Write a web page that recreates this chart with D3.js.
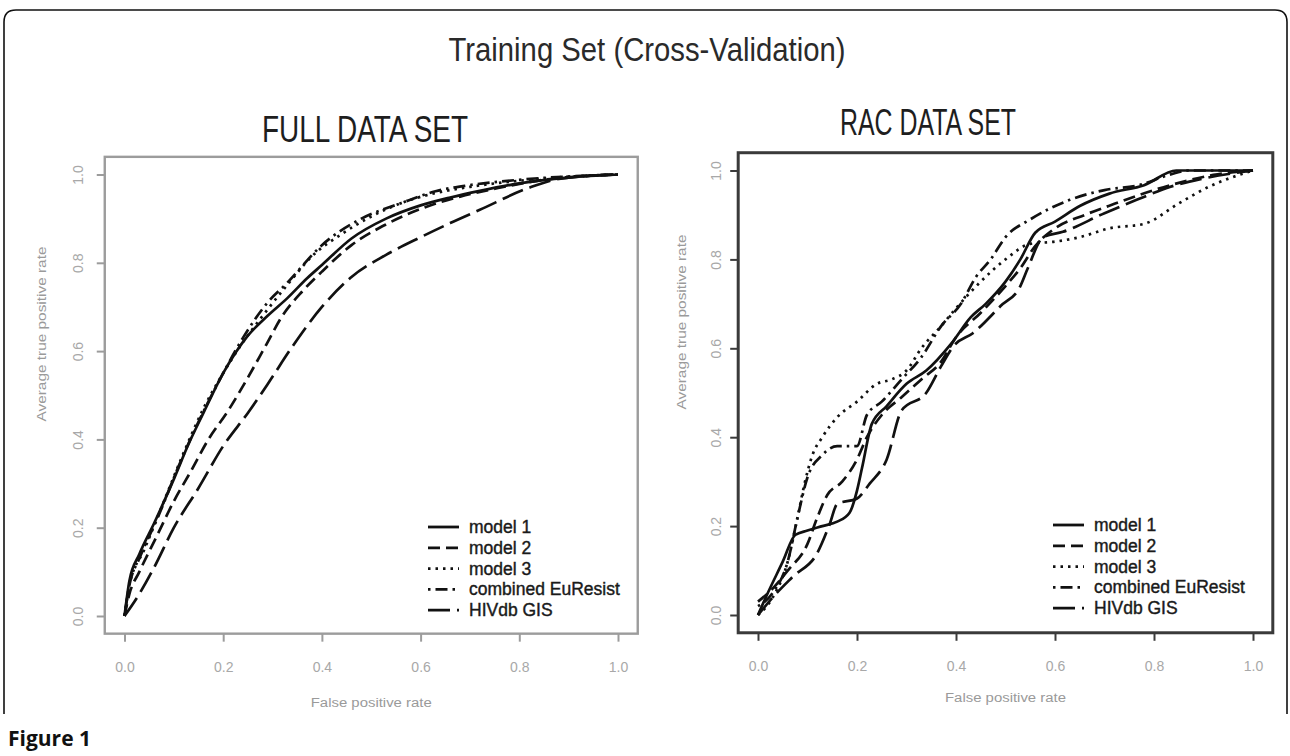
<!DOCTYPE html>
<html>
<head>
<meta charset="utf-8">
<script src="https://cdn.jsdelivr.net/npm/d3@7"></script>
<style>
  body { margin: 0; background: #fff; }
  svg { display: block; font-family: "Liberation Sans", Arial, sans-serif; }
</style>
</head>
<body>
<svg id="chart" width="1290" height="756"></svg>
<script>
// tick values shared by both panels
const ticks = [0, 0.2, 0.4, 0.6, 0.8, 1.0];
const seriesNames = ['model 1', 'model 2', 'model 3', 'combined EuResist', 'HIVdb GIS'];

// FULL DATA SET: [false positive rate, average true positive rate]
const fullModel1 = [[0, 0], [0.01, 0.08], [0.03, 0.14], [0.06, 0.21], [0.1, 0.31], [0.13, 0.39], [0.16, 0.46], [0.2, 0.55], [0.25, 0.635], [0.29, 0.68], [0.33, 0.72], [0.37, 0.765], [0.4, 0.795], [0.46, 0.855], [0.53, 0.9], [0.6, 0.93], [0.66, 0.948], [0.72, 0.963], [0.8, 0.98], [0.9, 0.993], [1, 1]];
const fullModel2 = [[0, 0], [0.01, 0.05], [0.03, 0.1], [0.065, 0.18], [0.1, 0.26], [0.133, 0.325], [0.17, 0.4], [0.21, 0.465], [0.25, 0.54], [0.285, 0.61], [0.32, 0.68], [0.36, 0.735], [0.4, 0.78], [0.46, 0.84], [0.53, 0.887], [0.6, 0.922], [0.68, 0.95], [0.76, 0.97], [0.85, 0.988], [1, 1]];
const fullModel3 = [[0, 0], [0.01, 0.07], [0.04, 0.15], [0.08, 0.26], [0.12, 0.37], [0.16, 0.47], [0.2, 0.55], [0.24, 0.62], [0.28, 0.68], [0.33, 0.75], [0.38, 0.815], [0.44, 0.865], [0.5, 0.905], [0.56, 0.935], [0.63, 0.958], [0.7, 0.972], [0.8, 0.986], [0.9, 0.995], [1, 1]];
const fullCombined = [[0, 0], [0.01, 0.07], [0.03, 0.13], [0.07, 0.23], [0.11, 0.34], [0.15, 0.44], [0.2, 0.55], [0.24, 0.63], [0.29, 0.71], [0.33, 0.755], [0.4, 0.84], [0.48, 0.9], [0.56, 0.935], [0.63, 0.962], [0.7, 0.976], [0.8, 0.988], [1, 1]];
const fullHivdb = [[0, 0], [0.03, 0.05], [0.06, 0.11], [0.1, 0.2], [0.15, 0.29], [0.2, 0.385], [0.25, 0.46], [0.29, 0.525], [0.34, 0.61], [0.4, 0.7], [0.46, 0.768], [0.53, 0.818], [0.6, 0.858], [0.66, 0.89], [0.72, 0.92], [0.82, 0.97], [0.88, 0.99], [1, 1]];

// RAC DATA SET
const racModel1 = [[0, 0], [0.02, 0.05], [0.05, 0.12], [0.075, 0.18], [0.1, 0.19], [0.13, 0.2], [0.16, 0.21], [0.185, 0.23], [0.2, 0.28], [0.21, 0.33], [0.23, 0.43], [0.26, 0.47], [0.3, 0.52], [0.34, 0.55], [0.39, 0.61], [0.43, 0.67], [0.46, 0.7], [0.5, 0.75], [0.53, 0.8], [0.56, 0.86], [0.6, 0.885], [0.65, 0.92], [0.71, 0.948], [0.78, 0.967], [0.845, 1.0], [1, 1]];
const racModel2 = [[0, 0.03], [0.03, 0.06], [0.06, 0.1], [0.1, 0.16], [0.12, 0.22], [0.14, 0.27], [0.17, 0.3], [0.2, 0.35], [0.22, 0.4], [0.25, 0.45], [0.29, 0.49], [0.33, 0.53], [0.37, 0.57], [0.4, 0.625], [0.45, 0.68], [0.5, 0.74], [0.53, 0.78], [0.56, 0.83], [0.6, 0.87], [0.66, 0.9], [0.72, 0.925], [0.8, 0.956], [0.86, 0.975], [0.92, 0.99], [1, 1]];
const racModel3 = [[0, 0], [0.03, 0.04], [0.06, 0.12], [0.08, 0.22], [0.095, 0.3], [0.11, 0.36], [0.13, 0.4], [0.16, 0.445], [0.2, 0.48], [0.24, 0.52], [0.27, 0.53], [0.3, 0.55], [0.33, 0.6], [0.37, 0.65], [0.4, 0.69], [0.45, 0.75], [0.5, 0.8], [0.55, 0.835], [0.6, 0.84], [0.65, 0.85], [0.71, 0.87], [0.78, 0.88], [0.85, 0.926], [0.91, 0.963], [1, 1]];
const racCombined = [[0, 0.02], [0.03, 0.05], [0.06, 0.12], [0.08, 0.22], [0.1, 0.31], [0.13, 0.36], [0.16, 0.38], [0.2, 0.38], [0.22, 0.45], [0.25, 0.48], [0.29, 0.53], [0.33, 0.58], [0.37, 0.65], [0.41, 0.7], [0.44, 0.76], [0.47, 0.8], [0.5, 0.85], [0.55, 0.89], [0.63, 0.934], [0.7, 0.956], [0.77, 0.967], [0.83, 0.99], [0.87, 1.0], [1, 1]];
const racHivdb = [[0, 0], [0.03, 0.04], [0.07, 0.086], [0.12, 0.14], [0.145, 0.205], [0.16, 0.25], [0.2, 0.262], [0.226, 0.296], [0.26, 0.35], [0.29, 0.46], [0.34, 0.5], [0.37, 0.56], [0.395, 0.605], [0.434, 0.634], [0.49, 0.695], [0.53, 0.74], [0.545, 0.78], [0.576, 0.85], [0.616, 0.862], [0.7, 0.904], [0.765, 0.934], [0.832, 0.963], [0.9, 0.982], [1, 1]];

const fullSeries = [fullModel1, fullModel2, fullModel3, fullCombined, fullHivdb];
const racSeries = [racModel1, racModel2, racModel3, racCombined, racHivdb];

// R lty 1..5 look
const dashes = [null, '12,6', '2.5,5', '2.5,5,12,5', '22,7'];

const svg = d3.select('#chart');

// figure frame with rounded top corners
svg.append('path')
  .attr('d', 'M4,714 V22 Q4,10 16,10 H1275 Q1287,10 1287,22 V714')
  .attr('fill', 'none').attr('stroke', '#111').attr('stroke-width', 1.6);

svg.append('text').attr('x', 647).attr('y', 61).attr('text-anchor', 'middle')
  .attr('font-size', 33).attr('fill', '#2a2a2a')
  .attr('textLength', 397).attr('lengthAdjust', 'spacingAndGlyphs')
  .text('Training Set (Cross-Validation)');

svg.append('text').attr('x', 8).attr('y', 746)
  .attr('font-family', '"Open Sans", sans-serif').attr('font-weight', 700).attr('font-size', 21).attr('fill', '#111')
  .text('Figure 1');

const panels = [
  { title: 'FULL DATA SET', titleX: 365, titleY: 142, titleLen: 206, series: fullSeries,
    left: 124.5, right: 618, bottom: 616, top: 174.5, box: '#9c9c9c', boxWidth: 2.4,
    yLabelOff: 22, yTitleX: 42, yTitleY: 334, xTitleY: 707, legendX: 428, legendY: 527 },
  { title: 'RAC DATA SET', titleX: 928, titleY: 135, titleLen: 176, series: racSeries,
    left: 758, right: 1253, bottom: 615, top: 170.5, box: '#3a3a3a', boxWidth: 3,
    yLabelOff: 17, yTitleX: 682, yTitleY: 322, xTitleY: 702, legendX: 1053, legendY: 525 }
];

function drawPanel(p) {
  const x = d3.scaleLinear().domain([0, 1]).range([p.left, p.right]);
  const y = d3.scaleLinear().domain([0, 1]).range([p.bottom, p.top]);
  const g = svg.append('g');

  g.append('text').attr('x', p.titleX).attr('y', p.titleY).attr('text-anchor', 'middle')
    .attr('font-size', 36).attr('fill', '#1e1e1e')
    .attr('textLength', p.titleLen).attr('lengthAdjust', 'spacingAndGlyphs')
    .text(p.title);

  // plot box spans 4% beyond the data range, like R
  g.append('rect')
    .attr('x', x(-0.04)).attr('y', y(1.04))
    .attr('width', x(1.04) - x(-0.04)).attr('height', y(-0.04) - y(1.04))
    .attr('fill', 'none').attr('stroke', p.box).attr('stroke-width', p.boxWidth);

  const xAxis = g.append('g').attr('transform', `translate(0,${y(-0.04)})`)
    .call(d3.axisBottom(x).tickValues(ticks).tickSize(8).tickPadding(20).tickFormat(d3.format('.1f')));
  const yAxis = g.append('g').attr('transform', `translate(${x(-0.04)},0)`)
    .call(d3.axisLeft(y).tickValues(ticks).tickSize(8).tickFormat(d3.format('.1f')));
  [xAxis, yAxis].forEach((a) => {
    a.select('.domain').remove();
    a.selectAll('.tick line').attr('stroke', p.box).attr('stroke-width', 2);
    a.selectAll('.tick text').attr('fill', '#a8a8a8').attr('font-size', 14)
      .attr('font-family', '"Liberation Sans", Arial, sans-serif');
  });
  yAxis.selectAll('.tick text')
    .attr('x', null).attr('dy', null).attr('text-anchor', 'middle')
    .attr('transform', `translate(${-p.yLabelOff},0) rotate(-90)`);

  g.append('text').attr('x', (x(0) + x(1)) / 2).attr('y', p.xTitleY).attr('text-anchor', 'middle')
    .attr('font-size', 12).attr('fill', '#9a9a9a')
    .attr('textLength', 121).attr('lengthAdjust', 'spacingAndGlyphs')
    .text('False positive rate');
  g.append('text').attr('transform', `translate(${p.yTitleX + 4},${p.yTitleY}) rotate(-90)`)
    .attr('text-anchor', 'middle').attr('font-size', 12).attr('fill', '#9a9a9a')
    .attr('textLength', 175).attr('lengthAdjust', 'spacingAndGlyphs')
    .text('Average true positive rate');

  const line = d3.line().x((d) => x(d[0])).y((d) => y(d[1])).curve(d3.curveMonotoneX);
  g.selectAll('path.roc').data(p.series).join('path')
    .attr('class', 'roc')
    .attr('d', line)
    .attr('fill', 'none').attr('stroke', '#111').attr('stroke-width', 2.7)
    .attr('stroke-dasharray', (d, i) => dashes[i]);

  const legend = g.append('g').attr('transform', `translate(${p.legendX},${p.legendY})`);
  const rows = legend.selectAll('g').data(seriesNames).join('g')
    .attr('transform', (d, i) => `translate(0,${i * 20.8})`);
  rows.append('line').attr('x1', 0).attr('x2', 31).attr('y1', 0).attr('y2', 0)
    .attr('stroke', '#111').attr('stroke-width', 2.8)
    .attr('stroke-dasharray', (d, i) => dashes[i]);
  rows.append('text').attr('x', 41).attr('y', 6).attr('font-size', 17.5).attr('fill', '#1a1a1a')
    .attr('stroke', '#1a1a1a').attr('stroke-width', 0.4)
    .text((d) => d);
}

panels.forEach(drawPanel);
</script>
</body>
</html>
